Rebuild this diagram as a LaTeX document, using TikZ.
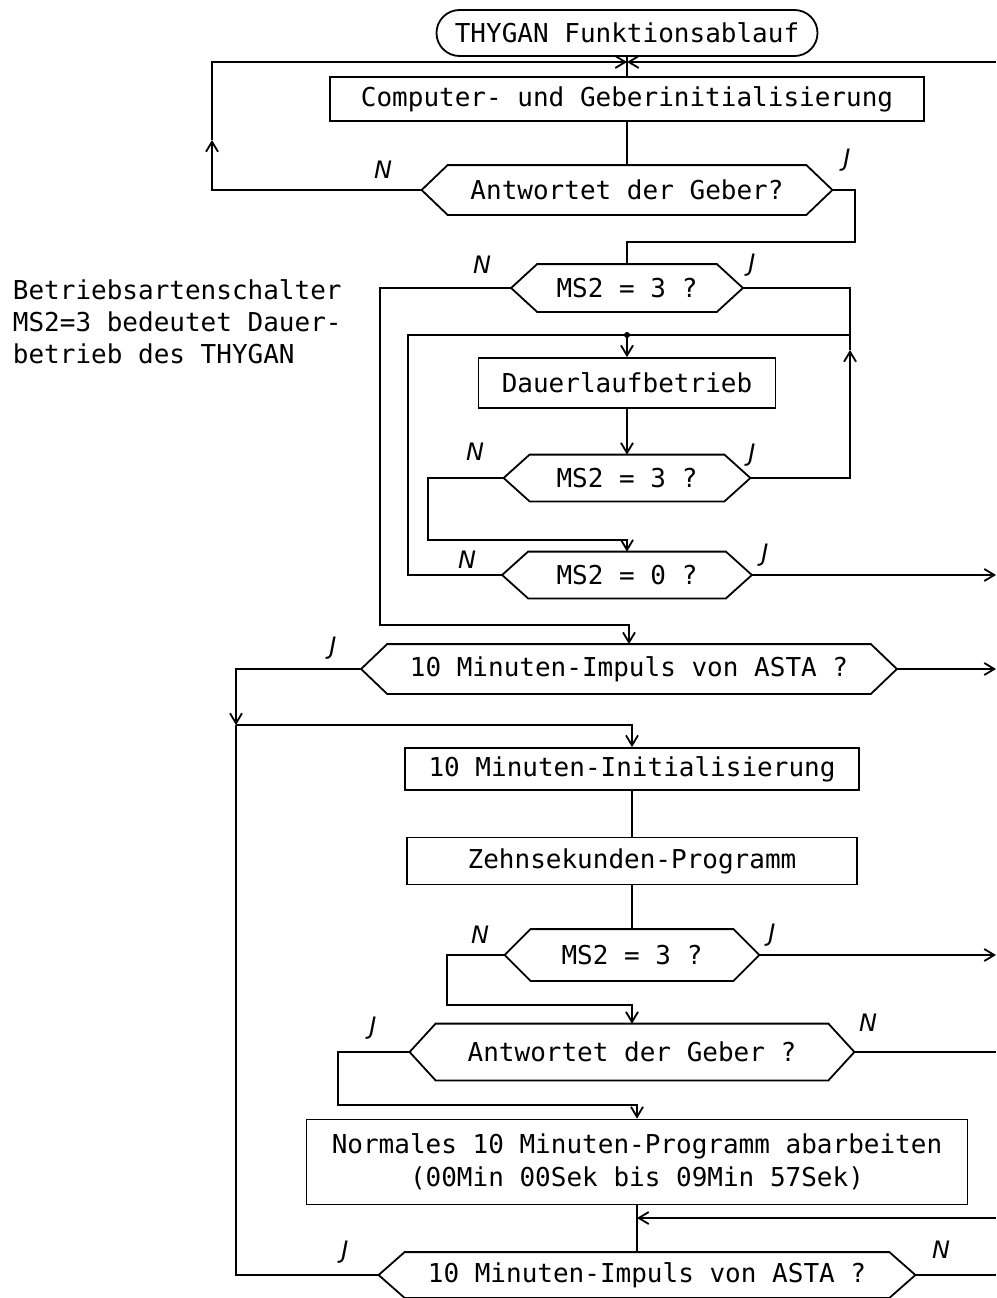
\documentclass[tikz,border=0pt]{standalone}
\usepackage{fontspec}
\setmonofont{DejaVu Sans Mono}
\setsansfont{DejaVu Sans}
\usepackage{tikz}
\usetikzlibrary{arrows.meta,positioning,calc}
\newcommand{\txtfont}{\fontsize{26}{32}\selectfont\ttfamily}
\newcommand{\jnfont}{\fontsize{24}{24}\selectfont\sffamily\itshape}

\begin{document}
\begin{tikzpicture}[
    x=1pt, y=-1pt,
    >={Straight Barb[length=10pt,width=12pt]},
    line width=1.8pt,
    box/.style={draw, rectangle, minimum height=44pt, inner sep=3pt, font=\txtfont},
    query/.style={rectangle, minimum height=46pt, inner sep=2pt, font=\txtfont},
    yn/.style={font=\jnfont, inner sep=0pt},
    flow/.style={->}
]
    \useasboundingbox (0,0) rectangle (996,1298);

    % Start
    \node[box, rounded corners=23pt, minimum width=381pt, minimum height=46pt] (title) at (627,33) {THYGAN Funktionsablauf};
    \node[box, minimum width=594pt] (init) at (627,99) {Computer- und Geberinitialisierung};
    \node[query, minimum width=409pt, minimum height=48pt] (q1) at (627,190) {Antwortet der Geber?};

    % Betriebsart
    \node[query, minimum width=230pt] (q2) at (627,288) {MS2 = 3 ?};
    \node[box, minimum width=297pt, minimum height=50pt] (dauer) at (627,383) {Dauerlaufbetrieb};
    \node[query, minimum width=245pt, minimum height=45pt] (q3) at (627,478) {MS2 = 3 ?};
    \node[query, minimum width=248pt, minimum height=45pt] (q4) at (627,575) {MS2 = 0 ?};
    \node[font=\txtfont, align=left, anchor=west, inner sep=0pt] (note) at (12,322) {Betriebsartenschalter\\MS2=3 bedeutet Dauer-\\betrieb des THYGAN};

    % 10 Minuten
    \node[query, minimum width=534pt, minimum height=48pt] (q5) at (629,669) {10 Minuten-Impuls von ASTA ?};
    \node[box, minimum width=454pt, minimum height=42pt] (ini10) at (632,769) {10 Minuten-Initialisierung};
    \node[box, minimum width=450pt, minimum height=47pt] (zehn) at (632,861) {Zehnsekunden-Programm};
    \node[query, minimum width=253pt, minimum height=50pt] (q6) at (632,955) {MS2 = 3 ?};
    \node[query, minimum width=443pt, minimum height=55pt] (q7) at (632,1052) {Antwortet der Geber ?};
    \node[box, align=center, minimum width=661pt, minimum height=85pt, font=\fontsize{26}{33}\selectfont\ttfamily] (normal) at (637,1162)
        {Normales 10 Minuten-Programm abarbeiten\\(00Min 00Sek bis 09Min 57Sek)};
    \node[query, minimum width=535pt, minimum height=44pt] (q8) at (647,1275) {10 Minuten-Impuls von ASTA ?};

    % Entscheidungen
    \foreach \n in {q1,q2,q3,q4,q5,q6,q7,q8} {
        \draw (\n.west) -- ([xshift=26pt]\n.north west) -- ([xshift=-26pt]\n.north east)
            -- (\n.east) -- ([xshift=-26pt]\n.south east) -- ([xshift=26pt]\n.south west) -- cycle;
    }

    % Ja / Nein
    \node[yn] (n1) at (383,170) {N};
    \node[yn] (j1) at (847,160) {J};
    \node[yn] (n2) at (482,265) {N};
    \node[yn] (j2) at (752,265) {J};
    \node[yn] (n3) at (475,452) {N};
    \node[yn] (j3) at (752,455) {J};
    \node[yn] (n4) at (467,560) {N};
    \node[yn] (j4) at (765,555) {J};
    \node[yn] (j5) at (333,648) {J};
    \node[yn] (n6) at (480,935) {N};
    \node[yn] (j6) at (772,935) {J};
    \node[yn] (j7) at (373,1028) {J};
    \node[yn] (n7) at (868,1023) {N};
    \node[yn] (j8) at (345,1252) {J};
    \node[yn] (n8) at (941,1250) {N};

    % Knoten
    \coordinate (topj) at (627,62);
    \coordinate (topr) at (996,62);
    \coordinate (upl) at (212,140);
    \coordinate (jn1) at (855,242);
    \coordinate (nl1) at (380,625);
    \coordinate (jr) at (850,335);
    \coordinate (upr) at (850,350);
    \coordinate (jd) at (627,335);
    \coordinate (ll) at (408,335);
    \coordinate (nl3) at (428,540);
    \coordinate (out1) at (996,575);
    \coordinate (out2) at (996,669);
    \coordinate (jl) at (236,725);
    \coordinate (nl4) at (447,1005);
    \coordinate (out3) at (996,955);
    \coordinate (out4) at (996,1052);
    \coordinate (nl5) at (338,1105);
    \coordinate (in5) at (996,1218);
    \coordinate (out5) at (996,1275);

    % Verbindungen oben
    \draw (title) -- (init);
    \draw[flow] (topr) -- (topj);
    \draw[flow] (q1.west) -| (upl);
    \draw[flow] (upl) |- (topj);
    \draw (init) -- (q1);
    \draw (q1.east) -| (jn1) -| (q2.north);

    % Dauerlauf
    \draw[flow] (q2.west) -| (nl1) -| (q5.north);
    \draw (q2.east) -| (jr);
    \draw[flow] (q3.east) -| (upr);
    \draw (upr) -- (jr) -- (jd);
    \fill (jd) circle (3pt);
    \draw[flow] (jd) -- (dauer);
    \draw[flow] (dauer) -- (q3);
    \draw[flow] (q3.west) -| (nl3) -| (q4.north);
    \draw (q4.west) -| (ll) -- (jd);
    \draw[flow] (q4.east) -- (out1);

    % 10-Minuten-Schleife
    \draw[flow] (q5.east) -- (out2);
    \draw[flow] (q5.west) -| (jl);
    \draw[flow] (jl) -| (ini10.north);
    \draw (q8.west) -| (jl);
    \draw (ini10) -- (zehn);
    \draw (zehn) -- (q6);
    \draw[flow] (q6.east) -- (out3);
    \draw[flow] (q6.west) -| (nl4) -| (q7.north);
    \draw (q7.east) -- (out4);
    \draw[flow] (q7.west) -| (nl5) -| (normal.north);
    \draw (normal.south) -- (normal.south |- q8.north);
    \draw[flow] (in5) -- (in5 -| normal.south);
    \draw (q8.east) -- (out5);
\end{tikzpicture}
\end{document}
